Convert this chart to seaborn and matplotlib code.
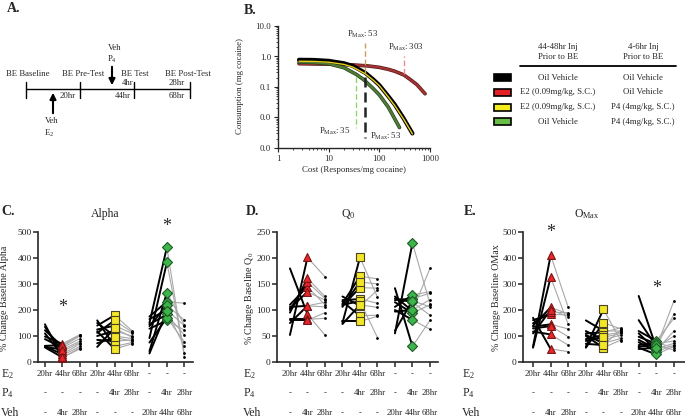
"""Demand curves, timeline and per-rat % change panels (A-E)."""

import matplotlib
matplotlib.use("Agg")
import matplotlib.pyplot as plt
import matplotlib.patheffects as pe
import matplotlib.transforms as mtransforms
from matplotlib.patches import Rectangle
from matplotlib.ticker import FixedLocator, LogLocator, NullFormatter, FuncFormatter
import pandas as pd
import seaborn as sns

W, H = 685, 419

# ---- B: demand curves ----
cost_oil = [2.6, 5, 10, 20, 30, 53, 75, 100, 150, 200, 300, 450]
cons_oil = [0.78, 0.77, 0.72, 0.60, 0.49, 0.29, 0.18, 0.115, 0.05, 0.027, 0.0095, 0.003]
cost_e2p4 = [2.6, 5, 10, 20, 30, 53, 75, 100, 150, 200, 300, 450]
cons_e2p4 = [0.70, 0.69, 0.65, 0.55, 0.45, 0.27, 0.17, 0.11, 0.047, 0.025, 0.009, 0.0029]
cost_p4 = [2.6, 5, 10, 20, 35, 50, 75, 100, 150, 250]
cons_p4 = [0.66, 0.64, 0.58, 0.43, 0.26, 0.17, 0.09, 0.055, 0.022, 0.0047]
cost_e2 = [2.6, 5, 10, 30, 60, 100, 150, 200, 303, 400, 550, 800]
cons_e2 = [0.58, 0.57, 0.56, 0.53, 0.49, 0.44, 0.38, 0.33, 0.25, 0.18, 0.12, 0.06]

# ---- C-E: % change from baseline per rat (pre-test, test, post-test) ----
alpha_e2_pre = [145, 135, 122, 110, 98, 88, 62, 60, 58, 56]
alpha_e2_test = [15, 40, 60, 25, 70, 55, 65, 30, 48, 18]
alpha_e2_post = [55, 75, 100, 60, 105, 90, 103, 70, 80, 50]
alpha_e2p4_pre = [160, 150, 140, 125, 118, 112, 100, 85, 72, 58]
alpha_e2p4_test = [60, 100, 180, 140, 50, 160, 120, 80, 95, 130]
alpha_e2p4_post = [75, 90, 120, 110, 70, 115, 100, 85, 80, 95]
alpha_p4_pre = [175, 165, 150, 145, 138, 128, 92, 75, 42, 33]
alpha_p4_test = [232, 200, 441, 183, 219, 160, 383, 170, 267, 195]
alpha_p4_post = [226, 140, 20, 104, 161, 123, 33, 78, 142, 60]

q0_e2_pre = [180, 110, 106, 103, 100, 95, 82, 80, 75, 52]
q0_e2_test = [92, 145, 108, 135, 154, 161, 82, 80, 108, 201]
q0_e2_post = [52, 110, 106, 119, 122, 126, 84, 95, 115, 164]
q0_e2p4_pre = [126, 119, 116, 112, 110, 108, 106, 78, 75, 73]
q0_e2p4_test = [108, 121, 89, 165, 117, 143, 154, 78, 201, 110]
q0_e2p4_post = [138, 113, 90, 160, 47, 142, 150, 88, 125, 105]
q0_p4_pre = [142, 126, 122, 119, 115, 106, 100, 97, 60, 55]
q0_p4_test = [30, 98, 115, 122, 94, 129, 81, 100, 118, 229]
q0_p4_post = [80, 180, 90, 132, 110, 135, 63, 120, 106, 112]

omax_e2_pre = [170, 161, 149, 136, 129, 117, 59, 55, 140, 110]
omax_e2_test = [50, 183, 191, 145, 138, 106, 411, 326, 210, 200]
omax_e2_post = [40, 181, 190, 127, 97, 65, 210, 145, 185, 175]
omax_e2p4_pre = [160, 119, 110, 104, 88, 81, 59, 55, 100, 70]
omax_e2p4_test = [120, 85, 114, 72, 104, 95, 202, 151, 55, 65]
omax_e2p4_post = [119, 104, 132, 91, 114, 110, 81, 127, 85, 125]
omax_p4_pre = [254, 161, 119, 110, 97, 85, 76, 65, 59, 55, 50]
omax_p4_test = [55, 60, 81, 45, 70, 50, 40, 75, 65, 29, 55]
omax_p4_post = [235, 183, 168, 119, 81, 72, 65, 55, 46, 60, 100]

row_e2 = ["20hr", "44hr", "68hr", "20hr", "44hr", "68hr", "-", "-", "-"]
row_p4 = ["-", "-", "-", "-", "4hr", "28hr", "-", "4hr", "28hr"]
row_veh = ["-", "4hr", "28hr", "-", "-", "-", "20hr", "44hr", "68hr"]

sns.set_theme(style="ticks")
plt.rcParams["font.family"] = ["Liberation Serif", "DejaVu Serif"]
plt.rcParams["mathtext.fontset"] = "custom"
plt.rcParams["mathtext.rm"] = "Liberation Serif"
plt.rcParams["mathtext.it"] = "Liberation Serif:italic"
plt.rcParams["mathtext.bf"] = "Liberation Serif:bold"

fig = plt.figure(figsize=(W / 100, H / 100), dpi=100)


def add_ax(left, top, right, bottom):
    return fig.add_axes([left / W, 1 - bottom / H, (right - left) / W, (bottom - top) / H])


# overlay in pixel coordinates for the free text
ov = fig.add_axes([0, 0, 1, 1])
ov.set_xlim(0, W)
ov.set_ylim(H, 0)
ov.axis("off")

# ---- A: timeline ----
ov.text(14, 8, "A.", fontsize=10, fontweight="bold", ha="center", va="center")
ov.plot([26, 190], [89, 89], color="black", lw=1)
for tx in [26, 80, 134, 190]:
    ov.plot([tx, tx], [82, 98], color="black", lw=1)
for tx, lab in [(28, "BE Baseline"), (83, "BE Pre-Test"), (135, "BE Test"), (188, "BE Post-Test")]:
    ov.text(tx, 74, lab, fontsize=6.3, ha="center", va="center")
for tx, ty, lab in [(68, 96, "20hr"), (128, 83, "4hr"), (123, 96, "44hr"), (177, 83, "28hr"), (177, 96, "68hr")]:
    ov.text(tx, ty, lab, fontsize=6.3, ha="center", va="center")
ov.annotate("", xy=(53, 90), xytext=(53, 116),
            arrowprops=dict(arrowstyle="-|>", color="black", lw=1.5, mutation_scale=9))
ov.annotate("", xy=(112, 88), xytext=(112, 64),
            arrowprops=dict(arrowstyle="-|>", color="black", lw=1.5, mutation_scale=9))
ov.text(115, 48, "Veh", fontsize=6.3, ha="center", va="center")
ov.text(112, 59, "P$_4$", fontsize=6.3, ha="center", va="center")
ov.text(52, 121, "Veh", fontsize=6.3, ha="center", va="center")
ov.text(49, 133, "E$_2$", fontsize=6.3, ha="center", va="center")

# ---- B: demand curves ----
ov.text(250, 10, "B.", fontsize=10, fontweight="bold", ha="center", va="center")
bx = add_ax(278, 26, 430, 148)
bx.set_xscale("log")
bx.set_yscale("log")
bx.set_facecolor("none")
curves = [
    (cost_e2, cons_e2, "#a33333", 1.6, "#5a1a1a"),
    (cost_p4, cons_p4, "#527d37", 1.6, "#24401a"),
    (cost_oil, cons_oil, "black", 3.0, None),
    (cost_e2p4, cons_e2p4, "#e8d21c", 1.0, None),
]
for cx, cy, col, lw, edge in curves:
    sns.lineplot(x=cx, y=cy, ax=bx, color=col, lw=lw, sort=False, estimator=None)
    if edge:
        bx.lines[-1].set_path_effects([pe.Stroke(linewidth=lw + 1, foreground=edge), pe.Normal()])
bx.plot([53, 53], [0.29, 2.8], color="#c9a05a", lw=1, dashes=(4, 2))
bx.plot([303, 303], [0.26, 1.0], color="#f08a8a", lw=1, dashes=(4, 2))
bx.plot([35, 35], [0.22, 0.0045], color="#8fd86a", lw=1, dashes=(4, 2))
bx.plot([53, 53], [0.22, 0.0022], color="#222222", lw=1.8, dashes=(4, 2))
bx.text(48, 5.2, "P$_{\\mathrm{Max}}$: 53", fontsize=6.3, ha="center", va="center")
bx.text(336, 2.0, "P$_{\\mathrm{Max}}$: 303", fontsize=6.3, ha="center", va="center")
bx.text(27, 0.0035, "P$_{\\mathrm{Max}}$: 35", fontsize=6.3, ha="right", va="center")
bx.text(64, 0.0024, "P$_{\\mathrm{Max}}$: 53", fontsize=6.3, ha="left", va="center")
bx.set_xlim(1, 1000)
bx.set_ylim(0.001, 10)
bx.xaxis.set_major_locator(FixedLocator([1, 10, 100, 1000]))
bx.xaxis.set_major_formatter(FuncFormatter(lambda v, p: f"{v:g}"))
bx.xaxis.set_minor_locator(LogLocator(base=10, subs=range(2, 10)))
bx.xaxis.set_minor_formatter(NullFormatter())
bx.yaxis.set_major_locator(FixedLocator([0.001, 0.01, 0.1, 1, 10]))
bx.yaxis.set_major_formatter(FuncFormatter(lambda v, p: f"{v:.1f}"))
bx.yaxis.set_minor_locator(LogLocator(base=10, subs=range(2, 10)))
bx.yaxis.set_minor_formatter(NullFormatter())
bx.tick_params(labelsize=6.3, length=3, width=0.8, pad=2)
bx.tick_params(which="minor", length=1.5, width=0.6)
for s in ["top", "right"]:
    bx.spines[s].set_visible(False)
for s in ["left", "bottom"]:
    bx.spines[s].set_linewidth(1)
ov.text(240, 86, "Consumption (mg cocaine)", fontsize=6.3, rotation=90, ha="center", va="center")
ov.text(354, 170, "Cost (Responses/mg cocaine)", fontsize=6.3, ha="center", va="center")

# ---- legend table ----
ov.text(558, 52, "44-48hr Inj\nPrior to BE", fontsize=6.3, ha="center", va="center", linespacing=1.4)
ov.text(643, 52, "4-6hr Inj\nPrior to BE", fontsize=6.3, ha="center", va="center", linespacing=1.4)
ov.plot([520, 676], [66, 66], color="black", lw=1.3)
legend_rows = [
    ("black", "Oil Vehicle", "Oil Vehicle"),
    ("#e41f26", "E2 (0.09mg/kg, S.C.)", "Oil Vehicle"),
    ("#f4ec1c", "E2 (0.09mg/kg, S.C.)", "P4 (4mg/kg, S.C.)"),
    ("#67bd45", "Oil Vehicle", "P4 (4mg/kg, S.C.)"),
]
for i, (col, t1, t2) in enumerate(legend_rows):
    ry = 78 + i * 14.5
    ov.add_patch(Rectangle((494, ry - 3.5), 17, 7, facecolor=col, edgecolor="black", lw=1.2))
    ov.text(558, ry, t1, fontsize=6.3, ha="center", va="center")
    ov.text(643, ry, t2, fontsize=6.3, ha="center", va="center")


# ---- C-E: paired dot plots ----
def paired_panel(left, right, xmin, xmax, ymax, ystep, groups, letter, letter_x,
                 title, title_x, ylabel, ylabel_x, row_x, stars):
    ax = add_ax(left, 232, right, 362)
    ax.set_facecolor("none")
    for base, (pre, test, post, marker, fc, ec, ms) in zip([0, 3, 6], groups):
        n = len(pre)
        df = pd.DataFrame({
            "subj": list(range(n)) * 3,
            "pos": [base] * n + [base + 1] * n + [base + 2] * n,
            "val": list(pre) + list(test) + list(post),
        })
        first = df[df["pos"] <= base + 1]
        second = df[df["pos"] >= base + 1]
        sns.lineplot(data=second, x="pos", y="val", units="subj", estimator=None,
                     color="#a8a8a8", lw=0.8, ax=ax, legend=False)
        sns.lineplot(data=first, x="pos", y="val", units="subj", estimator=None,
                     color="black", lw=1.4, ax=ax, legend=False)
        sns.scatterplot(x=[base + 2] * n, y=post, s=4, color="black", linewidth=0,
                        ax=ax, legend=False, zorder=4)
        sns.scatterplot(x=[base + 1] * n, y=test, marker=marker, s=ms, color=fc,
                        edgecolor=ec, linewidth=0.8, ax=ax, legend=False, zorder=5)
    for sx, sy in stars:
        ax.text(sx, sy, "*", fontsize=13, ha="center", va="center")
    ax.set_xlim(xmin, xmax)
    ax.set_ylim(0, ymax)
    ax.set_xticks(range(9))
    ax.set_xticklabels([])
    ax.set_yticks(range(0, ymax + 1, ystep))
    ax.set_xlabel("")
    ax.set_ylabel("")
    ax.tick_params(labelsize=6.8, length=3.5, width=1.1, pad=1)
    for s in ["top", "right"]:
        ax.spines[s].set_visible(False)
    for s in ["left", "bottom"]:
        ax.spines[s].set_linewidth(1.2)
    ov.text(letter_x, 211, letter, fontsize=10, fontweight="bold", ha="center", va="center")
    ov.text(title_x, 214, title, fontsize=8.5, ha="center", va="center")
    ov.text(ylabel_x, 298, ylabel, fontsize=7.2, rotation=90, ha="center", va="center")
    trans = mtransforms.blended_transform_factory(ax.transData, ov.transData)
    for ry, lab, vals in [(374, "E$_2$", row_e2), (393, "P$_4$", row_p4), (413, "Veh", row_veh)]:
        ov.text(row_x, ry, lab, fontsize=8.5, ha="left", va="center")
        for i, v in enumerate(vals):
            ov.text(i, ry, v, fontsize=6.3, ha="center", va="center", transform=trans)
    return ax


red = ("^", "#e8262b", "#7a1515", 32)
yel = ("s", "#f3e629", "#4a4420", 36)
grn = ("D", "#3db54a", "#1d5a25", 26)

paired_panel(38, 193, -0.4, 8.5, 500, 100,
             [(alpha_e2_pre, alpha_e2_test, alpha_e2_post) + red,
              (alpha_e2p4_pre, alpha_e2p4_test, alpha_e2p4_post) + yel,
              (alpha_p4_pre, alpha_p4_test, alpha_p4_post) + grn],
             "C.", 8, "Alpha", 105, "% Change Baseline Alpha", 5, 1,
             [(1, 210), (7, 520)])
paired_panel(277, 438, -0.74, 8.46, 250, 50,
             [(q0_e2_pre, q0_e2_test, q0_e2_post) + red,
              (q0_e2p4_pre, q0_e2p4_test, q0_e2p4_post) + yel,
              (q0_p4_pre, q0_p4_test, q0_p4_post) + grn],
             "D.", 252, "Q$_0$", 348, "% Change Baseline Q$_0$", 250, 243, [])
paired_panel(523, 685, -0.57, 8.63, 500, 100,
             [(omax_e2_pre, omax_e2_test, omax_e2_post) + red,
              (omax_e2p4_pre, omax_e2p4_test, omax_e2p4_post) + yel,
              (omax_p4_pre, omax_p4_test, omax_p4_post) + grn],
             "E.", 470, "O$_{\\mathrm{Max}}$", 587, "% Change Baseline OMax", 497, 462,
             [(1, 498), (7, 284)])

fig.savefig("out.png", dpi=100)
